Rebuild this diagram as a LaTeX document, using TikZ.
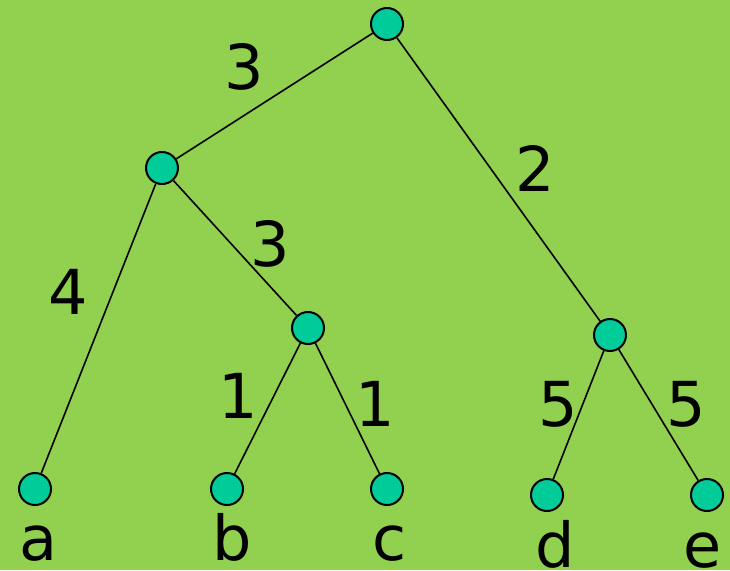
\documentclass[tikz,border=0pt]{standalone}
\usepackage{fontspec}
\setmainfont{DejaVu Sans}
\definecolor{bg}{HTML}{92D050}
\definecolor{nodefill}{HTML}{00CC99}
\begin{document}
\begin{tikzpicture}[x=1pt,y=-1pt,
  vert/.style={circle,draw=black,line width=2pt,fill=nodefill,minimum size=32pt,inner sep=0pt},
  edge/.style={line width=1.6pt},
  lbl/.style={font=\fontsize{62}{62}\selectfont,inner sep=0pt}]
\fill[bg] (0,0) rectangle (730,570);
\useasboundingbox (0,0) rectangle (730,570);
\node[vert] (r) at (387,24) {};
\node[vert] (l) at (162,168) {};
\node[vert] (m) at (308,328) {};
\node[vert] (q) at (610,335) {};
\node[vert] (a) at (35,489) {};
\node[vert] (b) at (227,489) {};
\node[vert] (c) at (387,489) {};
\node[vert] (d) at (547,495) {};
\node[vert] (e) at (707,495) {};
\draw[edge] (r) -- (l);
\draw[edge] (r) -- (q);
\draw[edge] (l) -- (a);
\draw[edge] (l) -- (m);
\draw[edge] (m) -- (b);
\draw[edge] (m) -- (c);
\draw[edge] (q) -- (d);
\draw[edge] (q) -- (e);
\node[lbl] (w1) at (244,67) {3};
\node[lbl] (w2) at (535,168) {2};
\node[lbl] (w3) at (68,292) {4};
\node[lbl] (w4) at (270,244) {3};
\node[lbl] (w5) at (238,396) {1};
\node[lbl] (w6) at (375,404) {1};
\node[lbl] (w7) at (558,404) {5};
\node[lbl] (w8) at (686,404) {5};
\node[lbl,anchor=base] (ta) at (38,560) {a};
\node[lbl,anchor=base] (tb) at (232,560) {b};
\node[lbl,anchor=base] (tc) at (390,560) {c};
\node[lbl,anchor=base] (td) at (555,567) {d};
\node[lbl,anchor=base] (te) at (703,567) {e};
\end{tikzpicture}
\end{document}
